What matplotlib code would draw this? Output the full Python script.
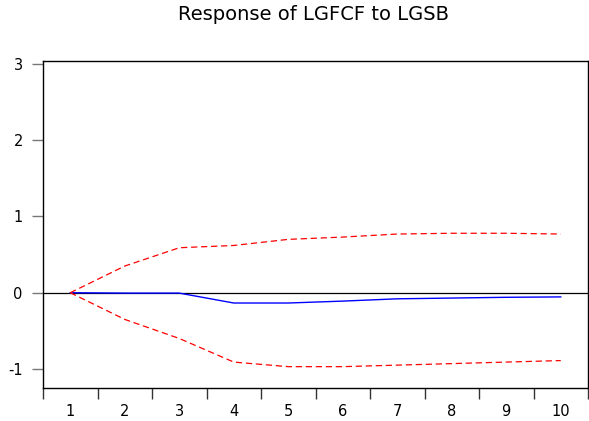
import numpy as np
import matplotlib.pyplot as plt
from matplotlib.ticker import MultipleLocator

plt.rcParams['font.family'] = ['DejaVu Sans']
plt.rcParams['axes.unicode_minus'] = False

# impulse response of LGFCF to LGSB, periods 1..10
periods = [1, 2, 3, 4, 5, 6, 7, 8, 9, 10]
response = [0.0, -0.005, -0.005, -0.135, -0.135, -0.11, -0.08, -0.07, -0.06, -0.055]
upper = [0.0, 0.35, 0.59, 0.62, 0.70, 0.73, 0.77, 0.78, 0.78, 0.77]
lower = [0.0, -0.35, -0.60, -0.91, -0.97, -0.97, -0.95, -0.93, -0.91, -0.89]

fig = plt.figure(figsize=(5.89, 4.21), dpi=100)
ax = fig.add_axes([43/589, 1 - 388/421, 545/589, 327/421])

ax.axhline(0, color='black', lw=0.9)
ax.plot(periods, response, color='blue', lw=1.0)
ax.plot(periods, upper, color='red', lw=0.9, ls=(0, (5, 3)))
ax.plot(periods, lower, color='red', lw=0.9, ls=(0, (5, 3)))

ax.set_xlim(0.5, 10.5)
ax.set_ylim(-1.25, 3.04)
ax.set_xticks(periods)
ax.xaxis.set_minor_locator(MultipleLocator(1, offset=0.5))
ax.tick_params(axis='x', which='major', length=0, labelsize=10.5, pad=11.5)
ax.tick_params(axis='x', which='minor', length=8, width=1, direction='out', color='#333333')
ax.set_yticks([-1, 0, 1, 2, 3])
ax.tick_params(axis='y', length=8, width=1, direction='out', color='#777777', labelsize=10.5, pad=6.5)
for s in ax.spines.values():
    s.set_linewidth(1.0)

fig.text(314/589, 1 - 20/421, 'Response of LGFCF to LGSB', ha='center', va='baseline', fontsize=14)

plt.savefig('out.png', dpi=100)
